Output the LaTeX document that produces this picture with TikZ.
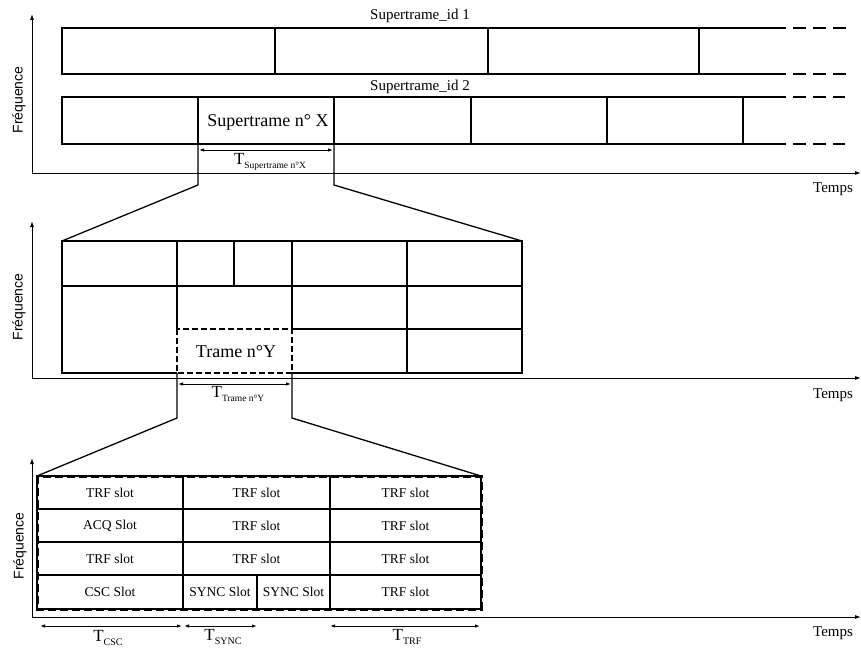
\documentclass[tikz,border=0pt]{standalone}
\usepackage{fontspec}
\setmainfont{Liberation Serif}
\newfontfamily\sansf{Liberation Sans}
\usetikzlibrary{arrows.meta}
\newcommand{\fsz}[1]{\fontsize{#1}{#1}\selectfont}
\newcommand{\tlab}[2]{{\fsz{17}T}\raisebox{-4pt}{\fsz{#1}#2}}
\begin{document}
\begin{tikzpicture}[x=1pt,y=-1pt,
  axisline/.style={line width=1pt,-{Latex[length=6pt,width=4pt]}},
  frameline/.style={line width=1.8pt},
  boldframe/.style={line width=2.5pt},
  cellline/.style={line width=1.7pt},
  dimline/.style={line width=1pt,{Latex[length=5pt,width=3.5pt]}-{Latex[length=5pt,width=3.5pt]}},
  zoomline/.style={line width=1.3pt},
  trail/.style={line width=1.8pt,dash pattern=on 13pt off 7pt},
  lab/.style={inner sep=0pt,font=\fsz{15}},
  freq/.style={inner sep=0pt,font=\sansf\fsz{14},rotate=90},
  slot/.style={inner sep=0pt,font=\fsz{13.5}},
  tdim/.style={inner sep=0pt}]
\useasboundingbox[fill=white] (0,0) rectangle (861,650);

% ---------------- Panel 1 ----------------
\coordinate (o1) at (32,173);
\coordinate (y1) at (32,14);
\coordinate (x1) at (861,173);
\draw[axisline] (o1) -- (y1);
\draw[axisline] (o1) -- (x1);
\node[freq] (f1) at (19,100) {Fréquence};
\node[lab] (t1) at (833,189) {Temps};

% row 1
\node[lab] (sid1) at (420,16) {Supertrame\_id 1};
\coordinate (r1a) at (62,28);
\coordinate (r1b) at (62,74);
\coordinate (r1c) at (773,28);
\coordinate (r1d) at (773,74);
\draw[frameline] (r1c) -- (r1a) -- (r1b) -- (r1d);
\foreach \xx in {275,488,699} \draw[frameline] (\xx,28) -- (\xx,74);
\coordinate (r1e) at (848,28);
\coordinate (r1f) at (848,74);
\draw[trail] (r1c) -- (r1e);
\draw[trail] (r1d) -- (r1f);

% row 2
\node[lab] (sid2) at (420,87) {Supertrame\_id 2};
\coordinate (r2a) at (62,97);
\coordinate (r2b) at (62,144);
\coordinate (r2c) at (773,97);
\coordinate (r2d) at (773,144);
\draw[frameline] (r2c) -- (r2a) -- (r2b) -- (r2d);
\foreach \xx in {471,607,743} \draw[frameline] (\xx,97) -- (\xx,144);
\coordinate (r2e) at (845,97);
\coordinate (r2f) at (845,144);
\draw[trail] (r2c) -- (r2e);
\draw[trail] (r2d) -- (r2f);

\coordinate (sxa) at (198,97);
\coordinate (sxb) at (334,144);
\draw[line width=2.4pt] (sxa) rectangle (sxb);
\node[inner sep=0pt,font=\fsz{18}] (sx) at (268,122) {Supertrame n° X};

\coordinate (d1a) at (199,150);
\coordinate (d1b) at (333,150);
\draw[dimline] (d1a) -- (d1b);
\node[tdim] (td1) at (270,162) {\tlab{9.5}{Supertrame n°X}};

% zoom lines 1
\coordinate (z1a) at (198,144);
\coordinate (z1b) at (198,185);
\coordinate (z1c) at (334,144);
\coordinate (z1d) at (334,185);
\coordinate (p2tl) at (62,241);
\coordinate (p2tr) at (522,241);
\draw[zoomline] (z1a) -- (z1b) -- (p2tl);
\draw[zoomline] (z1c) -- (z1d) -- (p2tr);

% ---------------- Panel 2 ----------------
\coordinate (o2) at (32,378);
\coordinate (y2) at (32,221);
\coordinate (x2) at (861,378);
\draw[axisline] (o2) -- (y2);
\draw[axisline] (o2) -- (x2);
\node[freq] (f2) at (19,307) {Fréquence};
\node[lab] (t2) at (833,395) {Temps};

\coordinate (p2bl) at (62,373);
\coordinate (p2br) at (522,373);
\coordinate (tyl) at (177,373);
\coordinate (tyr) at (292,373);
\draw[boldframe] (tyl) -- (p2bl) -- (p2tl) -- (p2tr) -- (p2br) -- (tyr);
\draw[cellline] (177,241) -- (177,329);
\draw[cellline] (292,241) -- (292,329);
\draw[cellline] (407,241) -- (407,373);
\draw[cellline] (234,241) -- (234,286);
\draw[cellline] (62,286) -- (522,286);
\draw[cellline] (292,329) -- (522,329);
\coordinate (tya) at (177,329);
\draw[line width=2.2pt,dash pattern=on 6pt off 3pt] (tya) rectangle (tyr);
\node[inner sep=0pt,font=\fsz{18}] (ty) at (236,352) {Trame n°Y};

\coordinate (d2a) at (178,384);
\coordinate (d2b) at (291,384);
\draw[dimline] (d2a) -- (d2b);
\node[tdim] (td2) at (238,394) {\tlab{9.5}{Trame n°Y}};

% zoom lines 2
\coordinate (z2b) at (177,418);
\coordinate (z2d) at (292,418);
\coordinate (p3tl) at (37,476);
\coordinate (p3tr) at (481,476);
\draw[zoomline] (tyl) -- (z2b) -- (p3tl);
\draw[zoomline] (tyr) -- (z2d) -- (p3tr);

% ---------------- Panel 3 ----------------
\coordinate (o3) at (32,617);
\coordinate (y3) at (32,458);
\coordinate (x3) at (861,617);
\draw[axisline] (o3) -- (y3);
\draw[axisline] (o3) -- (x3);
\node[freq] (f3) at (20,546) {Fréquence};
\node[lab] (t3) at (833,633) {Temps};

\coordinate (p3br) at (481,609);
\foreach \yy in {509,542,575} \draw[cellline] (37,\yy) -- (481,\yy);
\draw[cellline] (183,476) -- (183,609);
\draw[cellline] (330,476) -- (330,609);
\draw[cellline] (257,575) -- (257,609);
\draw[line width=1.2pt] (p3tl) rectangle (p3br);
\draw[line width=3pt,dash pattern=on 8pt off 4pt] (p3tl) rectangle (p3br);

\node[slot] (c11) at (110,493) {TRF slot};
\node[slot] (c12) at (256.5,493) {TRF slot};
\node[slot] (c13) at (405.5,493) {TRF slot};
\node[slot] (c21) at (110,526) {ACQ Slot};
\node[slot] (c22) at (256.5,526) {TRF slot};
\node[slot] (c23) at (405.5,526) {TRF slot};
\node[slot] (c31) at (110,559) {TRF slot};
\node[slot] (c32) at (256.5,559) {TRF slot};
\node[slot] (c33) at (405.5,559) {TRF slot};
\node[slot] (c41) at (110,592) {CSC Slot};
\node[slot] (c42) at (220,592) {SYNC Slot};
\node[slot] (c43) at (293.5,592) {SYNC Slot};
\node[slot] (c44) at (405.5,592) {TRF slot};

\coordinate (dc1) at (40,626);
\coordinate (dc2) at (182,626);
\coordinate (ds1) at (184,626);
\coordinate (ds2) at (257,626);
\coordinate (dt1) at (330,626);
\coordinate (dt2) at (480,626);
\draw[dimline] (dc1) -- (dc2);
\draw[dimline] (ds1) -- (ds2);
\draw[dimline] (dt1) -- (dt2);
\node[tdim] (tcsc) at (108,638) {\tlab{10}{CSC}};
\node[tdim] (tsync) at (223,637) {\tlab{10}{SYNC}};
\node[tdim] (ttrf) at (407,637) {\tlab{10}{TRF}};
\end{tikzpicture}
\end{document}
